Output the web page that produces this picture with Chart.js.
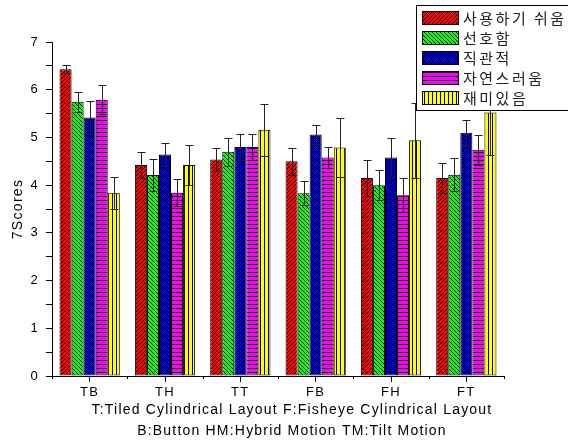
<!DOCTYPE html>
<html>
<head>
<meta charset="utf-8">
<script src="https://cdn.jsdelivr.net/npm/chart.js@4"></script>
<style>
  body { margin: 0; background: #fff; }
</style>
</head>
<body>
<canvas id="scoreChart" width="568" height="441"></canvas>
<script>
// categories and series
const categories = ['TB', 'TH', 'TT', 'FB', 'FH', 'FT'];
const seriesNames = ['사용하기 쉬움', '선호함', '직관적', '자연스러움', '재미있음'];

// mean scores per series
const easeOfUse = [6.43, 4.42, 4.54, 4.50, 4.15, 4.15];
const preferred = [5.75, 4.21, 4.70, 3.83, 4.00, 4.22];
const intuitive = [5.42, 4.64, 4.80, 5.06, 4.58, 5.10];
const natural   = [5.79, 3.84, 4.80, 4.58, 3.79, 4.74];
const fun       = [3.84, 4.42, 5.16, 4.79, 4.94, 5.52];

// error (+/-) per series
const easeOfUseErr = [0.09, 0.27, 0.24, 0.28, 0.37, 0.31];
const preferredErr = [0.21, 0.33, 0.29, 0.25, 0.32, 0.34];
const intuitiveErr = [0.35, 0.24, 0.28, 0.20, 0.41, 0.26];
const naturalErr   = [0.30, 0.28, 0.28, 0.22, 0.36, 0.32];
const funErr       = [0.34, 0.42, 0.54, 0.62, 0.78, 0.88];

// y axis tick labels
const yTicks = [0, 1, 2, 3, 4, 5, 6, 7];

const captionLines = [
   'T:Tiled Cylindrical Layout F:Fisheye Cylindrical Layout',
   'B:Button HM:Hybrid Motion TM:Tilt Motion'
];

// build a small hatch pattern, pixel by pixel
function hatch(bg, test, size) {
   const c = document.createElement('canvas');
   c.width = size;
   c.height = size;
   const g = c.getContext('2d');
   g.fillStyle = bg;
   g.fillRect(0, 0, size, size);
   g.fillStyle = '#000';
   for (let x = 0; x < size; x++) {
      for (let y = 0; y < size; y++) {
         if (test(x, y, size)) g.fillRect(x, y, 1, 1);
      }
   }
   return document.getElementById('scoreChart').getContext('2d').createPattern(c, 'repeat');
}

const fills = [
   hatch('#ff0000', (x, y, s) => (x + y) % s === s - 1, 4),          // forward diagonal
   hatch('#00ff00', (x, y, s) => ((x - y) % s + s) % s === 0, 4),     // back diagonal
   hatch('#0000ff', (x, y, s) => (x + y) % s === 0 || ((x - y) % s + s) % s === 0, 4), // cross
   hatch('#ff00ff', (x, y, s) => y % s === 0, 4),                      // horizontal
   hatch('#ffff00', (x, y, s) => x % s === 0, 4)                       // vertical
];

const values = [easeOfUse, preferred, intuitive, natural, fun];
const errors = [easeOfUseErr, preferredErr, intuitiveErr, naturalErr, funErr];

// wider letter spacing like the original rendering
const spacing = {
   id: 'spacing',
   beforeDraw(chart) {
      chart.ctx.letterSpacing = '1.3px';
   }
};

// error bars drawn on top of the bars
const errorBars = {
   id: 'errorBars',
   afterDatasetsDraw(chart) {
      const ctx = chart.ctx;
      const yScale = chart.scales.y;
      ctx.save();
      ctx.strokeStyle = '#222';
      ctx.lineWidth = 1;
      chart.data.datasets.forEach((ds, i) => {
         const meta = chart.getDatasetMeta(i);
         meta.data.forEach((bar, j) => {
            const v = ds.data[j];
            const e = errors[i][j];
            const x = Math.round(bar.x) + 0.5;
            const top = Math.round(yScale.getPixelForValue(v + e)) + 0.5;
            const bot = Math.round(yScale.getPixelForValue(v - e)) + 0.5;
            ctx.beginPath();
            ctx.moveTo(x, top);
            ctx.lineTo(x, bot);
            ctx.moveTo(x - 4, top);
            ctx.lineTo(x + 4, top);
            ctx.moveTo(x - 4, bot);
            ctx.lineTo(x + 4, bot);
            ctx.stroke();
         });
      });
      // short ticks at the category boundaries
      const xScale = chart.scales.x;
      const step = (xScale.right - xScale.left) / categories.length;
      ctx.strokeStyle = '#000';
      for (let k = 0; k <= categories.length; k++) {
         const x = Math.round(xScale.left + k * step) + 0.5;
         ctx.beginPath();
         ctx.moveTo(x, xScale.top);
         ctx.lineTo(x, xScale.top + 3);
         ctx.stroke();
      }
      ctx.restore();
   }
};

// legend box and caption drawn last, legend overlaps the plot
const overlay = {
   id: 'overlay',
   afterDraw(chart) {
      const ctx = chart.ctx;
      ctx.save();
      ctx.fillStyle = '#fff';
      ctx.fillRect(416, 5, 160, 105);
      ctx.strokeStyle = '#000';
      ctx.lineWidth = 1;
      ctx.strokeRect(416.5, 5.5, 160, 105);
      ctx.font = '15px "Noto Sans CJK KR"';
      ctx.letterSpacing = '2.5px';
      ctx.textBaseline = 'middle';
      chart.data.datasets.forEach((ds, i) => {
         const y = 11 + i * 20;
         ctx.fillStyle = ds.backgroundColor;
         ctx.fillRect(422, y, 37, 14);
         ctx.strokeRect(422.5, y + 0.5, 36, 13);
         ctx.fillStyle = '#222';
         ctx.fillText(ds.label, 463, y + 7);
      });

      ctx.font = '14px "Liberation Sans"';
      ctx.letterSpacing = '1.2px';
      ctx.fillStyle = '#000';
      ctx.textAlign = 'center';
      ctx.fillText(captionLines[0], 292, 410);
      ctx.fillText(captionLines[1], 292, 431);
      ctx.restore();
   }
};

const ctx = document.getElementById('scoreChart').getContext('2d');
new Chart(ctx, {
   type: 'bar',
   data: {
      labels: categories,
      datasets: seriesNames.map((name, i) => ({
         label: name,
         data: values[i],
         backgroundColor: fills[i],
         borderColor: '#000',
         borderWidth: 1,
         borderSkipped: false,
         categoryPercentage: 0.8,
         barPercentage: 1.0
      }))
   },
   options: {
      responsive: false,
      animation: false,
      layout: {
         padding: { top: 42, right: 64, bottom: 42, left: 0 }
      },
      plugins: {
         legend: { display: false },
         tooltip: { enabled: false }
      },
      scales: {
         x: {
            grid: {
               drawOnChartArea: false,
               offset: false,
               tickLength: 6,
               color: '#000'
            },
            border: { color: '#000' },
            ticks: {
               color: '#000',
               padding: 3,
               font: { family: 'Liberation Sans', size: 13 }
            },
            afterFit: (scale) => { scale.height = 23; }
         },
         y: {
            min: 0,
            max: 7,
            grid: {
               drawOnChartArea: false,
               tickLength: 6,
               color: '#000'
            },
            border: { color: '#000' },
            ticks: {
               stepSize: 0.5,
               maxTicksLimit: 20,
               color: '#000',
               padding: 7,
               font: { family: 'Liberation Sans', size: 13 },
               callback: (v) => yTicks.includes(v) ? v : ''
            },
            title: {
               display: true,
               text: '7Scores',
               color: '#000',
               padding: { top: 10, bottom: 0 },
               font: { family: 'Liberation Sans', size: 14 }
            },
            afterFit: (scale) => { scale.width = 52; }
         }
      }
   },
   plugins: [spacing, errorBars, overlay]
});
</script>
</body>
</html>
